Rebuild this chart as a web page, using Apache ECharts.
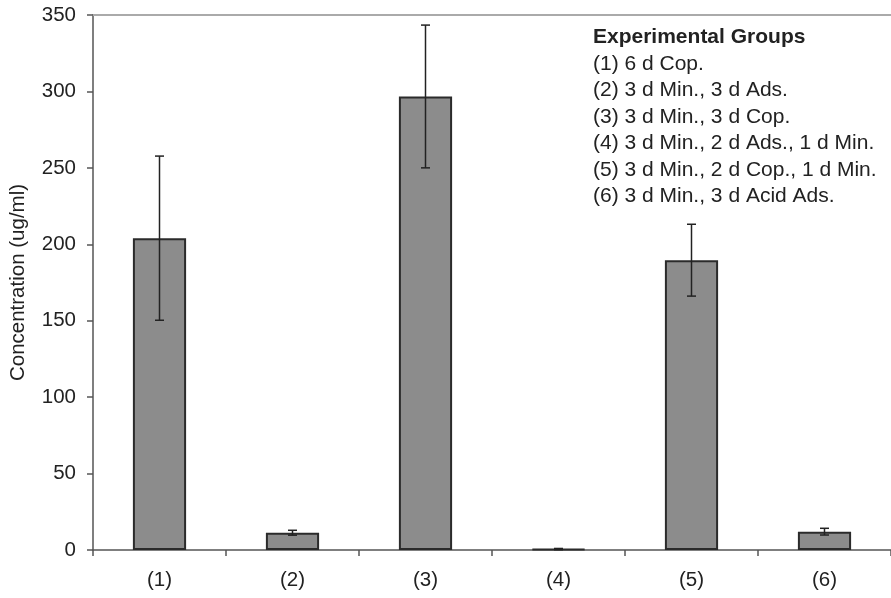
<!DOCTYPE html>
<html>
<head>
<meta charset="utf-8">
<script src="https://cdn.jsdelivr.net/npm/echarts@6/dist/echarts.min.js"></script>
<style>
  html, body { margin: 0; padding: 0; background: #fff; }
  #chart { width: 891px; height: 598px; }
</style>
</head>
<body>
<div id="chart"></div>
<script>
// data
const groups = ['(1)', '(2)', '(3)', '(4)', '(5)', '(6)'];
const concentration = [204, 11.3, 296.7, 0.6, 189.6, 12];
const errors = [53.7, 1.6, 46.7, 0.4, 23.5, 2.2];
const yTicks = { min: 0, max: 350, interval: 50 };
const legendTitle = 'Experimental Groups';
const legendLines = [
  '(1) 6 d Cop.',
  '(2) 3 d Min., 3 d Ads.',
  '(3) 3 d Min., 3 d Cop.',
  '(4) 3 d Min., 2 d Ads., 1 d Min.',
  '(5) 3 d Min., 2 d Cop., 1 d Min.',
  '(6) 3 d Min., 3 d Acid Ads.'
];

const font = '"Liberation Sans", Arial, sans-serif';
const myChart = echarts.init(document.getElementById('chart'));

const errData = groups.map((g, i) => [i, concentration[i] - errors[i], concentration[i] + errors[i]]);

const option = {
  animation: false,
  textStyle: { fontFamily: font },
  grid: { left: 93, top: 15, right: -8, bottom: 48 },
  xAxis: [
    {
      type: 'category',
      data: groups,
      axisLine: { lineStyle: { color: '#555', width: 1.5 } },
      axisTick: { show: true, length: 6, lineStyle: { color: '#555', width: 1.5 } },
      axisLabel: { color: '#222', fontSize: 20.5, margin: 20, fontFamily: font }
    },
    {
      type: 'category',
      data: groups,
      position: 'top',
      axisLine: { lineStyle: { color: '#aaa', width: 2 } },
      axisTick: { show: false },
      axisLabel: { show: false }
    }
  ],
  yAxis: {
    type: 'value',
    min: yTicks.min,
    max: yTicks.max,
    interval: yTicks.interval,
    name: 'Concentration (ug/ml)',
    nameLocation: 'middle',
    nameGap: 64,
    nameTextStyle: { color: '#222', fontSize: 20.5, fontFamily: font },
    axisLine: { show: true, lineStyle: { color: '#555', width: 1.5 } },
    axisTick: { show: true, length: 6, lineStyle: { color: '#555', width: 1.5 } },
    axisLabel: { color: '#222', fontSize: 20.5, margin: 17, fontFamily: font },
    splitLine: { show: false }
  },
  graphic: [{
    type: 'text',
    left: 593,
    top: 24,
    style: {
      text: '{b|' + legendTitle + '}\n' + legendLines.join('\n'),
      font: '21px ' + font,
      fill: '#222',
      lineHeight: 26.5,
      rich: {
        b: { fontWeight: 'bold', fontSize: 21, fontFamily: font, lineHeight: 26.5, fill: '#222' }
      }
    }
  }],
  series: [
    {
      name: 'Concentration',
      type: 'bar',
      data: concentration,
      barWidth: '40%',
      itemStyle: { color: '#8c8c8c', borderColor: '#2b2b2b', borderWidth: 2 }
    },
    {
      name: 'Error',
      type: 'custom',
      data: errData,
      z: 10,
      renderItem: function (params, api) {
        const x = api.value(0);
        const lo = api.coord([x, api.value(1)]);
        const hi = api.coord([x, api.value(2)]);
        const cap = 4.5;
        const style = { stroke: '#222', lineWidth: 1.5, fill: null };
        return {
          type: 'group',
          children: [
            { type: 'line', shape: { x1: lo[0], y1: lo[1], x2: hi[0], y2: hi[1] }, style },
            { type: 'line', shape: { x1: hi[0] - cap, y1: hi[1], x2: hi[0] + cap, y2: hi[1] }, style },
            { type: 'line', shape: { x1: lo[0] - cap, y1: lo[1], x2: lo[0] + cap, y2: lo[1] }, style }
          ]
        };
      }
    }
  ]
};
myChart.setOption(option);
</script>
</body>
</html>
